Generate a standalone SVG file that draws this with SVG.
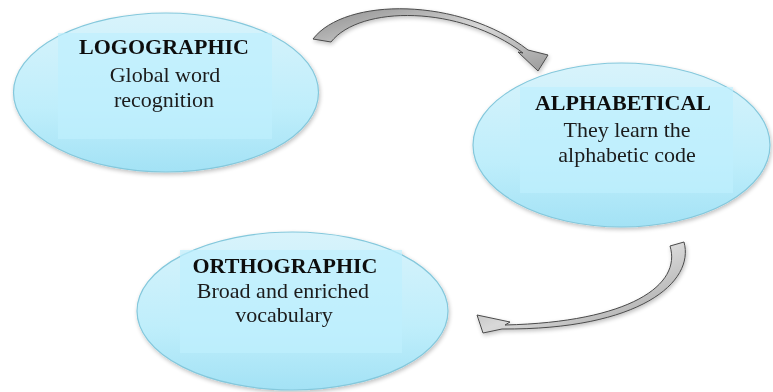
<svg xmlns="http://www.w3.org/2000/svg" width="773" height="392" viewBox="0 0 773 392">
  <defs>
    <linearGradient id="ellFill" x1="0" y1="0" x2="0" y2="1">
      <stop offset="0" stop-color="#d8f3fb"/>
      <stop offset="0.6" stop-color="#bfeefb"/>
      <stop offset="1" stop-color="#a3e2f5"/>
    </linearGradient>
    <linearGradient id="arrowFill" x1="0" y1="0" x2="1" y2="1">
      <stop offset="0" stop-color="#8c8c8c"/>
      <stop offset="0.5" stop-color="#d8d8d8"/>
      <stop offset="1" stop-color="#9a9a9a"/>
    </linearGradient>
    <filter id="shadow" x="-10%" y="-10%" width="130%" height="130%">
      <feGaussianBlur in="SourceAlpha" stdDeviation="2"/>
      <feOffset dx="1" dy="2" result="b"/>
      <feComponentTransfer><feFuncA type="linear" slope="0.25"/></feComponentTransfer>
      <feMerge><feMergeNode/><feMergeNode in="SourceGraphic"/></feMerge>
    </filter>
  </defs>
  <style>
    .ell { fill: url(#ellFill); stroke: #84c8dc; stroke-width: 1.2; }
    .box { fill: #bff0fd; opacity: 0.7; }
    .title { font-family: "Liberation Serif", "Times New Roman", serif; font-size: 22px; font-weight: bold; fill: #111; text-anchor: middle; }
    .body { font-family: "Liberation Serif", "Times New Roman", serif; font-size: 22px; fill: #1a1a1a; text-anchor: middle; }
    .arr { fill: url(#arrowFill); stroke: #4a4a4a; stroke-width: 1; stroke-linejoin: round; }
  </style>
  <rect width="773" height="392" fill="#ffffff"/>

  <g id="connectors" filter="url(#shadow)">
    <path class="arr" d="M 313 39 C 345 -3, 460 -3, 528 50 L 548 55 L 538 71 L 518 52 L 523 53 C 460 5, 360 5, 331 42 Z"/>
    <path class="arr" d="M 670 246 L 684 242 C 695 282, 640 330, 502 329 L 483 333 L 477 315 L 510 322 L 505 325 C 630 322, 682 285, 670 246 Z"/>
  </g>

  <g id="logographic" filter="url(#shadow)">
    <ellipse class="ell" cx="166" cy="92.5" rx="152.5" ry="79.5"/>
    <rect class="box" x="58" y="33" width="214" height="106"/>
    <text class="title" x="164" y="54">LOGOGRAPHIC</text>
    <text class="body" x="165" y="82">Global word</text>
    <text class="body" x="164" y="107">recognition</text>
  </g>

  <g id="alphabetical" filter="url(#shadow)">
    <ellipse class="ell" cx="621.5" cy="145" rx="148.5" ry="82"/>
    <rect class="box" x="520" y="87" width="213" height="106"/>
    <text class="title" x="623" y="110">ALPHABETICAL</text>
    <text class="body" x="627" y="137">They learn the</text>
    <text class="body" x="627" y="162">alphabetic code</text>
  </g>

  <g id="orthographic" filter="url(#shadow)">
    <ellipse class="ell" cx="292.5" cy="311" rx="155.5" ry="79"/>
    <rect class="box" x="180" y="250" width="222" height="103"/>
    <text class="title" x="285" y="273">ORTHOGRAPHIC</text>
    <text class="body" x="283" y="298">Broad and enriched</text>
    <text class="body" x="284" y="322">vocabulary</text>
  </g>
</svg>
